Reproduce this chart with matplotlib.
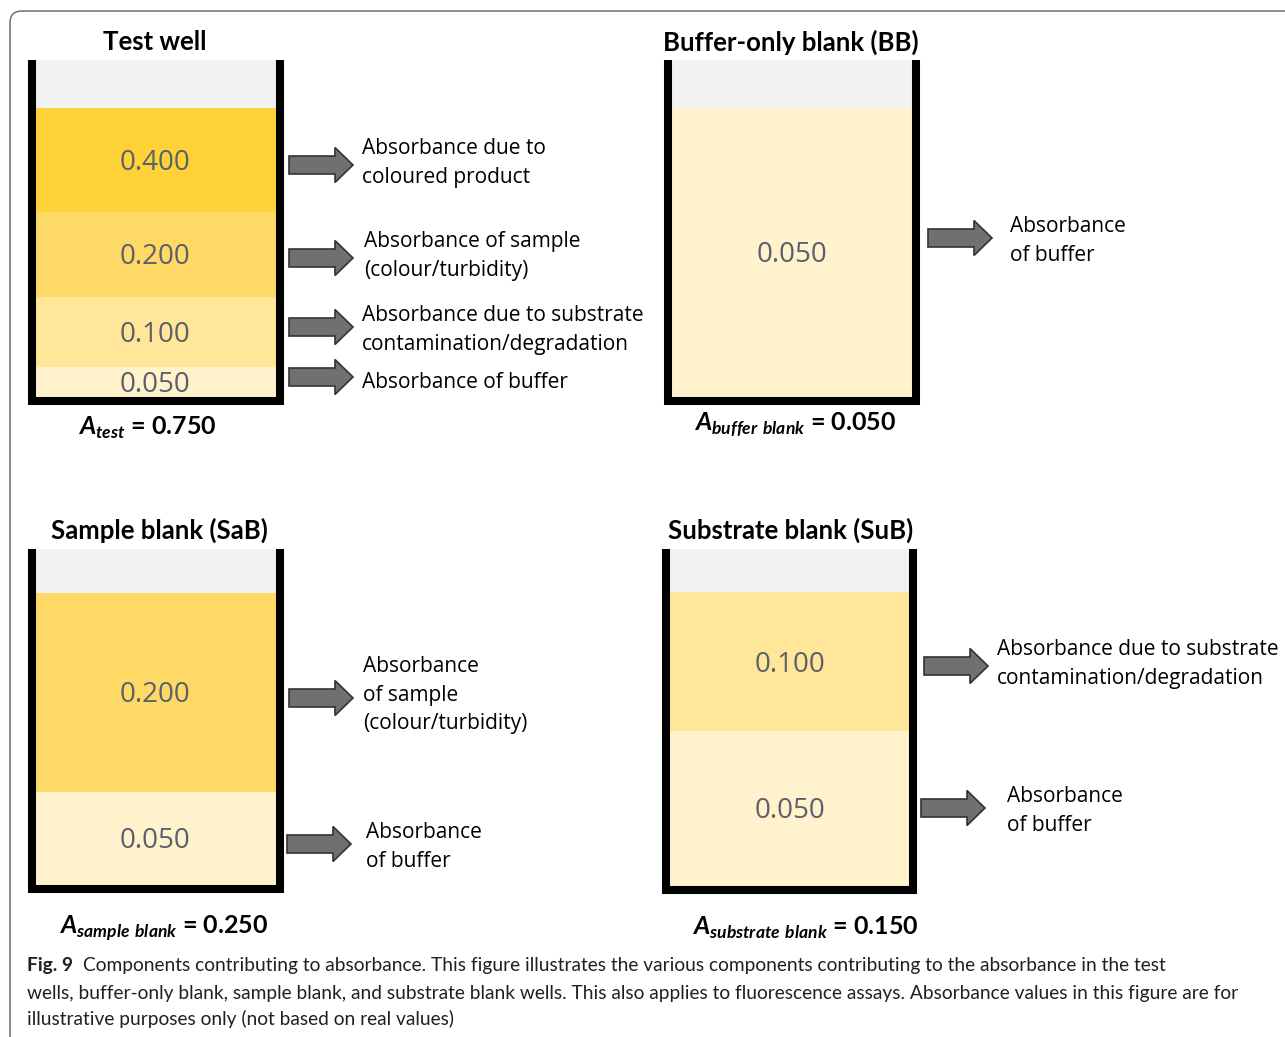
import matplotlib
matplotlib.use('Agg')
import matplotlib.pyplot as plt
from matplotlib.patches import FancyArrow, FancyBboxPatch

# ---- data ----
titles = ['Test well', 'Buffer-only blank (BB)', 'Sample blank (SaB)', 'Substrate blank (SuB)']
subscripts = ['test', 'buffer\\ blank', 'sample\\ blank', 'substrate\\ blank']
test_values = [0.400, 0.200, 0.100, 0.050]
bb_values = [0.050]
sab_values = [0.200, 0.050]
sub_values = [0.100, 0.050]
test_labels = ['Absorbance due to\ncoloured product',
               'Absorbance of sample\n(colour/turbidity)',
               'Absorbance due to substrate\ncontamination/degradation',
               'Absorbance of buffer']
bb_labels = ['Absorbance\nof buffer']
sab_labels = ['Absorbance\nof sample\n(colour/turbidity)', 'Absorbance\nof buffer']
sub_labels = ['Absorbance due to substrate\ncontamination/degradation', 'Absorbance\nof buffer']
caption_bold = 'Fig. 9'
caption = ['Components contributing to absorbance. This figure illustrates the various components contributing to the absorbance in the test',
           'wells, buffer-only blank, sample blank, and substrate blank wells. This also applies to fluorescence assays. Absorbance values in this figure are for',
           'illustrative purposes only (not based on real values)']

values = [test_values, bb_values, sab_values, sub_values]
labels = [test_labels, bb_labels, sab_labels, sub_labels]

# ---- layout (pixels) ----
layer_colors = {0.400: '#FFD338', 0.200: '#FFD966', 0.100: '#FFE699', 0.050: '#FFF2CC'}
empty_color = '#F2F2F2'
num_color = '#5B616B'
dy = 3  # text sits a bit low in the original
wells = [dict(x0=36, x1=276, top=60, gb=108, h=[104, 85, 70, 30], numx=155,
              title=(155, 40), formula=(147, 425),
              arrows=[(289, 165), (289, 258), (289, 327), (289, 377)],
              text=[(362, 160), (364, 253), (362, 327), (362, 380)]),
         dict(x0=672, x1=912, top=60, gb=108, h=[289], numx=792,
              title=(791, 40), formula=(795, 422),
              arrows=[(928, 238)], text=[(1010, 238)]),
         dict(x0=36, x1=276, top=549, gb=593, h=[199, 93], numx=155,
              title=(159, 528), formula=(164, 925),
              arrows=[(289, 698), (287, 844)], text=[(363, 692), (366, 844)]),
         dict(x0=670, x1=909, top=549, gb=592, h=[139, 155], numx=790,
              title=(791, 528), formula=(805, 925),
              arrows=[(924, 666), (921, 808)], text=[(997, 661), (1007, 808)])]

plt.rcParams['mathtext.fontset'] = 'custom'
plt.rcParams['mathtext.rm'] = 'Lato'
plt.rcParams['mathtext.bfit'] = 'Lato:italic:bold'

W, H = 1285, 1037
fig = plt.figure(figsize=(W / 100, H / 100), dpi=100)
ax = fig.add_axes([0, 0, 1, 1])
ax.set_xlim(0, W)
ax.set_ylim(H, 0)
ax.axis('off')

# outer frame
ax.add_patch(FancyBboxPatch((10, 11), 1320, 1060, boxstyle='round,pad=0,rounding_size=12',
                            fc='none', ec='#6f6f6f', lw=1.1, clip_on=False))

for i, w in enumerate(wells):
    cx = (w['x0'] + w['x1']) / 2
    width = w['x1'] - w['x0']
    ax.bar(cx, w['gb'] - w['top'], bottom=w['top'], width=width, color=empty_color, lw=0)
    y = w['gb']
    for v, hh in zip(values[i], w['h']):
        ax.bar(cx, hh, bottom=y, width=width, color=layer_colors[v], lw=0)
        ax.text(w['numx'], y + hh / 2 + dy, '%.3f' % v, ha='center', va='center',
                fontsize=20, color=num_color, family='Open Sans')
        y += hh
    # walls
    ax.plot([w['x0'] - 4, w['x0'] - 4, w['x1'] + 4, w['x1'] + 4],
            [w['top'], y + 4, y + 4, w['top']], color='black', lw=5.8,
            solid_joinstyle='miter', solid_capstyle='butt')
    ax.text(w['title'][0], w['title'][1] + 2, titles[i], ha='center', va='center',
            fontsize=18.5, fontweight='bold', family='Lato')
    total = sum(values[i])
    ax.text(w['formula'][0], w['formula'][1] + dy,
            r'$\mathbfit{A}_{\mathbfit{%s}}$ = %.3f' % (subscripts[i], total),
            ha='center', va='center', fontsize=18, fontweight='bold', family='Lato')
    for (ax0, ay), (tx, ty), lab in zip(w['arrows'], w['text'], labels[i]):
        ax.add_patch(FancyArrow(ax0, ay, 64, 0, width=18, head_width=35, head_length=18,
                                length_includes_head=True, fc='#707070', ec='#333333', lw=1.2))
        ax.text(tx, ty + dy, lab, ha='left', va='center', fontsize=15, family='Open Sans',
                linespacing=1.5)

# caption: fit font size so line 2 spans the measured width
renderer = fig.canvas.get_renderer()
probe = ax.text(0, 0, caption[1], fontsize=15, family='Lato')
cap_size = 15 * 1215 / probe.get_window_extent(renderer).width
probe.remove()

fb = ax.text(27, 966, caption_bold, ha='left', va='center', fontsize=cap_size,
             fontweight='bold', family='Lato', color='#231F20')
bw = fb.get_window_extent(renderer).width
ax.text(27 + bw + 10, 966, caption[0], ha='left', va='center', fontsize=cap_size,
        family='Lato', color='#231F20')
ax.text(27, 993, caption[1], ha='left', va='center', fontsize=cap_size,
        family='Lato', color='#231F20')
ax.text(27, 1019, caption[2], ha='left', va='center', fontsize=cap_size,
        family='Lato', color='#231F20')

fig.savefig('out.png', dpi=100)
